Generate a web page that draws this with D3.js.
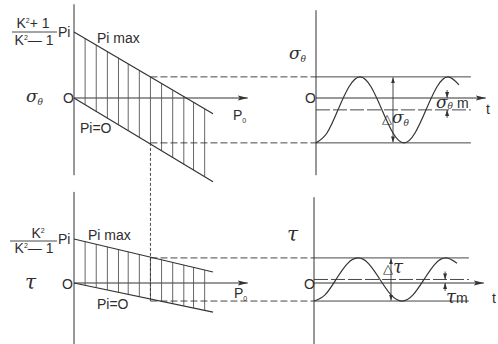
<!DOCTYPE html>
<html>
<head>
<meta charset="utf-8">
<script src="https://cdn.jsdelivr.net/npm/d3@7"></script>
<style>
  body { margin: 0; background: #fff; }
  svg { display: block; }
  text { fill: #2e2e2e; font-family: "Liberation Sans", Arial, sans-serif; font-size: 14px; }
  .greek { font-family: "DejaVu Serif", "Liberation Serif", serif; font-style: italic; }
</style>
</head>
<body>
<div id="chart"></div>
<script>
// P0 ends of the two bounding lines (value at P0 = 0 and P0 = 1), in units of Pi
const pEnds = [0, 1];
const sigmaPiMax = [1.0, -0.24];
const sigmaPiZero = [0.0, -1.27];
const tauPiMax = [1.0, 0.25];
const tauPiZero = [0.0, -0.66];

// hatching positions along P0
const hatchP0 = [0.08, 0.16, 0.24, 0.32, 0.39, 0.47, 0.55, 0.63, 0.71, 0.79, 0.86, 0.94];
const opP0 = 0.55;

// time steps (periods) and the two stress waves
const tSteps = [0, 0.125, 0.25, 0.375, 0.5, 0.625, 0.75, 0.875, 1.0, 1.125, 1.25, 1.375, 1.5, 1.625];
const sigmaWave = [-0.68, -0.53, -0.18, 0.17, 0.32, 0.17, -0.18, -0.53, -0.68, -0.53, -0.18, 0.17, 0.32, 0.2];
const tauWave = [-0.41, -0.27, 0.08, 0.43, 0.57, 0.43, 0.08, -0.27, -0.41, -0.27, 0.08, 0.43, 0.57, 0.45];
const sigmaMax = 0.32, sigmaMin = -0.68, sigmaMean = -0.18;
const tauMax = 0.57, tauMin = -0.41, tauMean = 0.08;

const width = 498, height = 344;
const ink = "#333";

const svg = d3.select("#chart").append("svg")
    .attr("width", width)
    .attr("height", height);

const defs = svg.append("defs");
defs.append("marker")
    .attr("id", "arrow")
    .attr("viewBox", "0 0 10 6")
    .attr("refX", 10).attr("refY", 3)
    .attr("markerWidth", 10).attr("markerHeight", 6)
    .attr("markerUnits", "userSpaceOnUse")
    .attr("orient", "auto")
    .append("path").attr("d", "M0,0.5 L10,3 L0,5.5 L2,3 z").attr("fill", ink);
defs.append("marker")
    .attr("id", "tip")
    .attr("viewBox", "0 0 6 4")
    .attr("refX", 6).attr("refY", 2)
    .attr("markerWidth", 6).attr("markerHeight", 4)
    .attr("markerUnits", "userSpaceOnUse")
    .attr("orient", "auto")
    .append("path").attr("d", "M0,0 L6,2 L0,4 z").attr("fill", ink);

// scales
const x = d3.scaleLinear().domain([0, 1]).range([74, 213]);
const ySig = d3.scaleLinear().domain([0, 1]).range([98, 32]);
const yTau = d3.scaleLinear().domain([0, 1]).range([283, 239]);
const tSig = d3.scaleLinear().domain([0, 1]).range([316, 404]);
const tTau = d3.scaleLinear().domain([0, 1]).range([314, 402]);

function line(g, x1, y1, x2, y2, opts = {}) {
    return g.append("line")
        .attr("x1", x1).attr("y1", y1).attr("x2", x2).attr("y2", y2)
        .attr("stroke", opts.color || ink)
        .attr("stroke-width", opts.w || 1)
        .attr("stroke-dasharray", opts.dash || null)
        .attr("marker-end", opts.end || null)
        .attr("marker-start", opts.start || null);
}

function label(x0, y0, parts, anchor) {
    const t = svg.append("text").attr("x", x0).attr("y", y0)
        .attr("text-anchor", anchor || "start");
    parts.forEach(p => {
        const s = t.append("tspan").text(p.t);
        if (p.cls) s.attr("class", p.cls);
        if (p.size) s.style("font-size", p.size + "px");
        if (p.dy) s.attr("dy", p.dy);
    });
    return t;
}

// one left panel (P0 diagram) + one right panel (time history)
function panel(cfg) {
    const g = svg.append("g");
    const y = cfg.y, t = cfg.t;

    // axes
    line(g, x(0), y(cfg.vAxis[0]), x(0), y(cfg.vAxis[1]));
    line(g, x(0), y(0), x(1.25), y(0), { end: "url(#arrow)" });
    line(g, t(0), y(cfg.rAxis[0]), t(0), y(cfg.rAxis[1]));
    line(g, t(0), y(0), t(1.93), y(0), { end: "url(#arrow)" });

    // hatching between the two lines
    const upper = d3.scaleLinear().domain(pEnds).range(cfg.piMax);
    const lower = d3.scaleLinear().domain(pEnds).range(cfg.piZero);
    g.selectAll(".hatch").data(hatchP0).join("line")
        .attr("x1", d => x(d)).attr("x2", d => x(d))
        .attr("y1", d => y(upper(d))).attr("y2", d => y(lower(d)))
        .attr("stroke", "#555").attr("stroke-width", 0.9);

    line(g, x(pEnds[0]), y(cfg.piMax[0]), x(pEnds[1]), y(cfg.piMax[1]), { w: 1.2 });
    line(g, x(pEnds[0]), y(cfg.piZero[0]), x(pEnds[1]), y(cfg.piZero[1]), { w: 1.2 });

    // projection of operating point
    line(g, x(opP0), y(cfg.min), x(opP0), cfg.dropTo, { dash: "3,2", w: 0.9 });
    line(g, x(opP0), y(cfg.max), t(0), y(cfg.max), { dash: "7,3", w: 0.9 });
    line(g, x(opP0), y(cfg.min), t(0), y(cfg.min), { dash: "7,3", w: 0.9 });

    // limit lines in the time panel
    line(g, t(0), y(cfg.max), t(1.76), y(cfg.max), { w: 0.9 });
    line(g, t(0), y(cfg.min), t(1.76), y(cfg.min), { w: 0.9 });
    line(g, t(0), y(cfg.mean), t(1.76), y(cfg.mean), { w: 0.9, dash: "14,3" });

    // wave
    g.append("path")
        .datum(tSteps.map((s, i) => [s, cfg.wave[i]]))
        .attr("fill", "none").attr("stroke", ink).attr("stroke-width", 1.2)
        .attr("d", d3.line().x(d => t(d[0])).y(d => y(d[1])).curve(d3.curveNatural));

    // range arrow
    line(g, t(0.875), (y(cfg.max) + y(cfg.min)) / 2, t(0.875), y(cfg.max) + 0.5, { end: "url(#tip)", w: 0.9 });
    line(g, t(0.875), (y(cfg.max) + y(cfg.min)) / 2, t(0.875), y(cfg.min) - 0.5, { end: "url(#tip)", w: 0.9 });

    // mean markers
    const hi = Math.min(y(0), y(cfg.mean)), lo = Math.max(y(0), y(cfg.mean));
    line(g, t(1.49), hi - 8, t(1.49), hi, { end: "url(#tip)", w: 0.9 });
    line(g, t(1.49), lo + 8, t(1.49), lo, { end: "url(#tip)", w: 0.9 });
}

panel({
    y: ySig, t: tSig,
    vAxis: [1.42, -1.17], rAxis: [1.33, -1.17],
    piMax: sigmaPiMax, piZero: sigmaPiZero,
    max: sigmaMax, min: sigmaMin, mean: sigmaMean,
    wave: sigmaWave, dropTo: yTau(0.59)
});
panel({
    y: yTau, t: tTau,
    vAxis: [2.07, -1.39], rAxis: [1.95, -1.39],
    piMax: tauPiMax, piZero: tauPiZero,
    max: tauMax, min: tauMin, mean: tauMean,
    wave: tauWave, dropTo: yTau(0.59)
});

// ---- labels, top ----
label(33, 28, [{ t: "K" }, { t: "2", size: 7, dy: -5 }, { t: "+ 1", dy: 5 }], "middle");
line(svg, 12, 32, 57, 32, { w: 0.9 });
label(34, 45, [{ t: "K" }, { t: "2", size: 7, dy: -5 }, { t: "— 1", dy: 5 }], "middle");
label(58, 37, [{ t: "Pi" }]);
label(97, 43, [{ t: "Pi max" }]);
label(26, 102, [{ t: "σ", cls: "greek", size: 17 }, { t: "θ", cls: "greek", size: 9, dy: 3 }]);
label(63, 103, [{ t: "O" }]);
label(233, 120, [{ t: "P" }, { t: "0", size: 7, dy: 3 }]);
label(80, 133, [{ t: "Pi=O" }]);

label(289, 59, [{ t: "σ", cls: "greek", size: 17 }, { t: "θ", cls: "greek", size: 9, dy: 3 }]);
label(305, 103, [{ t: "O" }]);
label(486, 114, [{ t: "t" }]);
label(382, 123, [{ t: "△", size: 13 }, { t: "σ", cls: "greek", size: 17 }, { t: "θ", cls: "greek", size: 9, dy: 3 }]);
label(436, 108, [{ t: "σ", cls: "greek", size: 17 }, { t: "θ", cls: "greek", size: 9, dy: 1 }, { t: " m", dy: -1 }]);

// ---- labels, bottom ----
label(38, 238, [{ t: "K" }, { t: "2", size: 7, dy: -5 }], "middle");
line(svg, 10, 241, 57, 241, { w: 0.9 });
label(34, 253, [{ t: "K" }, { t: "2", size: 7, dy: -5 }, { t: "— 1", dy: 5 }], "middle");
label(58, 244, [{ t: "Pi" }]);
label(88, 240, [{ t: "Pi  max" }]);
label(25, 289, [{ t: "τ", cls: "greek", size: 20 }]);
label(62, 289, [{ t: "O" }]);
label(234, 298, [{ t: "P" }, { t: "0", size: 7, dy: 3 }]);
label(97, 309, [{ t: "Pi=O" }]);

label(287, 241, [{ t: "τ", cls: "greek", size: 20 }]);
label(304, 289, [{ t: "O" }]);
label(492, 303, [{ t: "t" }]);
label(383, 273, [{ t: "△", size: 13 }, { t: "τ", cls: "greek", size: 18 }]);
label(446, 303, [{ t: "τ", cls: "greek", size: 18 }, { t: "m" }]);
</script>
</body>
</html>
